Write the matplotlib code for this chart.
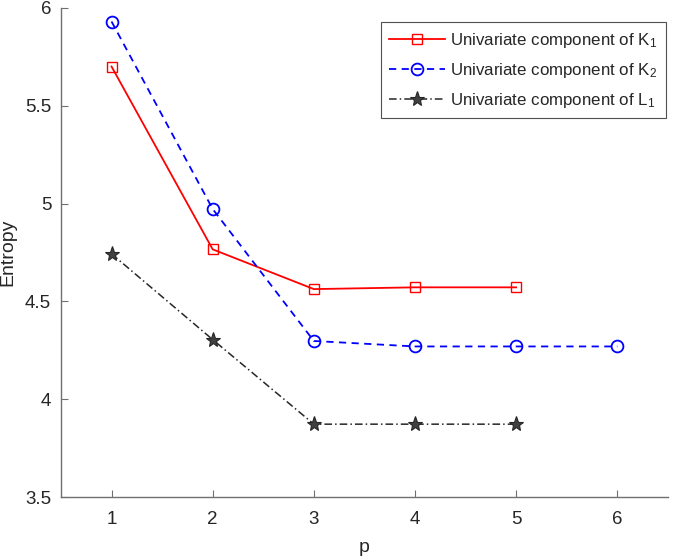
import numpy as np
import matplotlib.pyplot as plt

plt.rcParams['font.family'] = ['Liberation Sans', 'DejaVu Sans']
plt.rcParams['mathtext.fontset'] = 'custom'
plt.rcParams['mathtext.rm'] = 'Liberation Sans'
plt.rcParams['mathtext.it'] = 'Liberation Sans'

p_k1 = [1, 2, 3, 4, 5]
entropy_k1 = [5.70, 4.766, 4.563, 4.572, 4.572]

p_k2 = [1, 2, 3, 4, 5, 6]
entropy_k2 = [5.93, 4.972, 4.298, 4.27, 4.27, 4.27]

p_l1 = [1, 2, 3, 4, 5]
entropy_l1 = [4.743, 4.305, 3.873, 3.873, 3.873]

labels = ['Univariate component of K$_1$',
          'Univariate component of K$_2$',
          'Univariate component of L$_1$']

axis_color = '#262626'

fig = plt.figure(figsize=(6.85, 5.58), dpi=100)
ax = fig.add_axes([0.089, 0.109, 0.886, 0.877])

ax.plot(p_k1, entropy_k1, color='#ff0000', lw=1.3, marker='s', ms=7,
        mfc='none', mec='#ff0000', mew=1.0, label=labels[0])
ax.plot(p_k2, entropy_k2, color='#0000ff', lw=1.3, ls=(0, (4, 3)), marker='o', ms=8.5,
        mfc='none', mec='#0000ff', mew=1.3, label=labels[1])
ax.plot(p_l1, entropy_l1, color=axis_color, lw=1.1, ls=(0, (5, 2, 1, 2)), marker='*',
        ms=11, mfc='#404040', mec=axis_color, mew=0.8, label=labels[2])

ax.set_xlim(0.5, 6.5)
ax.set_ylim(3.5, 6)
ax.set_xticks([1, 2, 3, 4, 5, 6])
ax.set_yticks([3.5, 4, 4.5, 5, 5.5, 6])
ax.set_yticklabels(['3.5', '4', '4.5', '5', '5.5', '6'])

for side in ['top', 'right']:
    ax.spines[side].set_visible(False)
for side in ['left', 'bottom']:
    ax.spines[side].set_color('#707070')
    ax.spines[side].set_linewidth(1.0)
ax.tick_params(direction='in', length=5, width=0.8, color='#707070',
               labelsize=13.5, labelcolor=axis_color)
ax.tick_params(axis='x', pad=10)
ax.tick_params(axis='y', pad=7)

ax.set_xlabel('p', fontsize=14, color=axis_color, labelpad=8)
ax.set_ylabel('Entropy', fontsize=14, color=axis_color, labelpad=6)

leg = ax.legend(loc='upper right', bbox_to_anchor=(0.997, 0.97), fontsize=12.2,
                frameon=True, fancybox=False, edgecolor='#262626',
                handlelength=3.3, borderpad=0.5, labelspacing=0.65, handletextpad=0.3,
                borderaxespad=0.0)
leg.get_frame().set_linewidth(0.8)
for t in leg.get_texts():
    t.set_color(axis_color)

fig.savefig('out.png', dpi=100)
